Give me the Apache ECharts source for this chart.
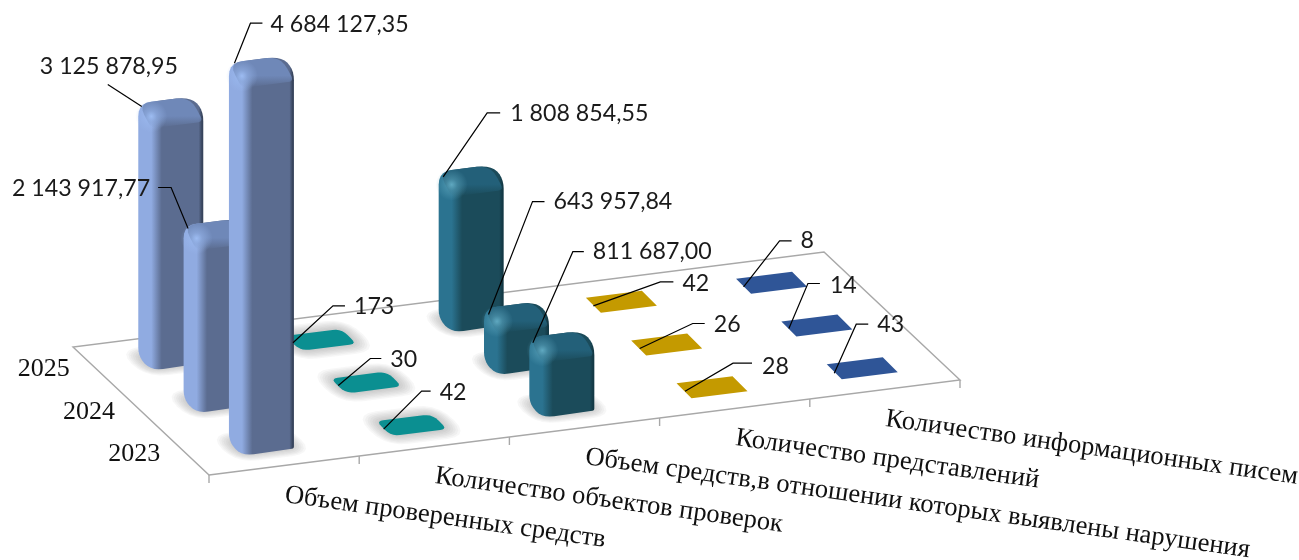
<!DOCTYPE html>
<html>
<head>
<meta charset="utf-8">
<style>
  html, body { margin: 0; padding: 0; background: #fff; }
  #main { width: 1299px; height: 560px; }
</style>
<script src="https://cdn.jsdelivr.net/npm/echarts@6/dist/echarts.min.js"></script>
</head>
<body>
<div id="main"></div>
<script>
// rows go from the front of the floor to the back
const years = ['2023', '2024', '2025'];
const categories = [
    'Объем проверенных средств',
    'Количество объектов проверок',
    'Объем средств,в отношении которых выявлены нарушения',
    'Количество представлений',
    'Количество информационных писем'
];
const checkedFunds = [4684127.35, 2143917.77, 3125878.95];
const auditObjects = [42, 30, 173];
const violationFunds = [811687.00, 643957.84, 1808854.55];
const submissions = [28, 26, 42];
const infoLetters = [43, 14, 8];
const seriesValues = [checkedFunds, auditObjects, violationFunds, submissions, infoLetters];

// looks per category
const looks = [
    {rounded: true, side: '#90abe1', front: '#5b6c90', edge: '#37445c', top: '#6f88b8', glow: '#9dbcf2'},
    {rounded: true, flat: '#0b8f91'},
    {rounded: true, side: '#2b7390', front: '#1b4b5a', edge: '#133945', top: '#236079', glow: '#5fa8c0'},
    {flat: '#c49a00'},
    {flat: '#2f5597'}
];

// leader line for each label, in px from the top centre of its mark:
// [startX, startY, elbowX, elbowY, endX, endY, textX, textY, text align]
const leaders = [
    [[-27, -3, -11, -43, 1, -43, 9, -42, 'left'],
     [-28, 0, -45, -41, -58, -41, -66, -40, 'right'],
     [-29, 0, -63, -22, -63, -22, -131, -40, 'left']],
    [[-28, 4, 10, -34, 19, -34, 28, -33, 'left'],
     [-28, 3, 4, -24, 15, -24, 24, -23, 'left'],
     [-28, 3, 12, -34, 24, -34, 33, -33, 'left']],
    [[-29, 2, 11, -89, 22, -89, 31, -89, 'left'],
     [-28, 3, 16, -110, 28, -110, 37, -110, 'left'],
     [-28, 2, 16, -62, 29, -62, 39, -61, 'left']],
    [[-27, 4, 21, -24, 40, -24, 50, -21, 'left'],
     [-27, 4, 26, -21, 38, -21, 47, -20, 'left'],
     [-28, 4, 39, -20, 52, -20, 61, -18, 'left']],
    [[-28, 5, -6, -44, 6, -44, 15, -44, 'left'],
     [-28, 3, -9, -42, 3, -42, 13, -40, 'left'],
     [-28, 4, 8, -42, 20, -42, 29, -42, 'left']]
];

// oblique projection of the floor
const RISE_PER_CATEGORY = -19;
const DEPTH_DX = -45.33;
const DEPTH_DY = -42.67;

const LABEL_FONT = 'Lato, sans-serif';
const AXIS_FONT = '"Liberation Serif", serif';

function formatValue(v) {
    if (v < 1000) return String(v);
    let parts = v.toFixed(2).split('.');
    return parts[0].replace(/\B(?=(\d{3})+(?!\d))/g, ' ') + ',' + parts[1];
}

// c = position along categories, r = depth in rows, v = value
function project(api, c, r, v) {
    let p = api.coord([c, v]);
    return [p[0] + r * DEPTH_DX, p[1] + c * RISE_PER_CATEGORY + r * DEPTH_DY];
}

// turns corners of a polygon into short curves
function rounded(points, radii) {
    let out = [];
    let n = points.length;
    for (let i = 0; i < n; i++) {
        let p = points[i], a = points[(i + n - 1) % n], b = points[(i + 1) % n];
        let rad = radii[i];
        if (!rad) { out.push(p); continue; }
        let la = Math.hypot(a[0] - p[0], a[1] - p[1]);
        let lb = Math.hypot(b[0] - p[0], b[1] - p[1]);
        let s = [p[0] + (a[0] - p[0]) * Math.min(rad, la / 2) / la, p[1] + (a[1] - p[1]) * Math.min(rad, la / 2) / la];
        let e = [p[0] + (b[0] - p[0]) * Math.min(rad, lb / 2) / lb, p[1] + (b[1] - p[1]) * Math.min(rad, lb / 2) / lb];
        for (let t = 0; t <= 1.001; t += 0.2) {
            let u = 1 - t;
            out.push([u * u * s[0] + 2 * u * t * p[0] + t * t * e[0], u * u * s[1] + 2 * u * t * p[1] + t * t * e[1]]);
        }
    }
    return out;
}

function poly(points, style) {
    return {type: 'polygon', shape: {points: points}, style: style};
}

function renderFloor(params, api) {
    let line = {stroke: '#a8a8a8', lineWidth: 1.4, fill: null};
    let fl = project(api, 0, 0, 0), fr = project(api, 5, 0, 0);
    let bl = project(api, 0, 3, 0), br = project(api, 5, 3, 0);
    let children = [poly([fl, fr, br, bl], {fill: '#fff', stroke: '#a8a8a8', lineWidth: 1.4})];
    categories.forEach((name, i) => {
        let t = project(api, i, 0, 0);
        children.push({type: 'line', shape: {x1: t[0], y1: t[1], x2: t[0], y2: t[1] + 8}, style: line});
    });
    let last = project(api, 5, 0, 0);
    children.push({type: 'line', shape: {x1: last[0], y1: last[1], x2: last[0], y2: last[1] + 8}, style: line});
    return {type: 'group', children: children};
}

function renderAxisText(params, api) {
    let children = [];
    years.forEach((y, r) => {
        let p = project(api, 0, r + 0.5, 0);
        children.push({type: 'text', x: p[0] - 26, y: p[1] + 1, style: {
            text: y, font: '26px ' + AXIS_FONT, fill: '#111', align: 'right', verticalAlign: 'middle'
        }});
    });
    categories.forEach((name, i) => {
        let p = project(api, i, 0, 0);
        children.push({type: 'text', x: p[0] + 76, y: p[1] + 20, rotation: -8 * Math.PI / 180, style: {
            text: name, font: '26.6px ' + AXIS_FONT, fill: '#111', align: 'left', verticalAlign: 'middle'
        }});
    });
    return {type: 'group', children: children};
}

function renderMark(params, api) {
    let c = api.value(0), r = api.value(1), v = api.value(2);
    let look = looks[c];
    let h = api.size([0, v])[1];
    let base = project(api, c + 0.5, r + 0.5, 0);
    let plate = !!look.flat;
    let ux = plate ? 56 : 52, uy = plate ? -7 : -6.6;
    let d = plate ? -15 : -13;
    let at = (a, b, z) => [base[0] + a * ux + b * d, base[1] + a * uy + b * d - z];

    let children = [];
    let foot = [at(-0.5, -0.5, 0), at(0.5, -0.5, 0), at(0.5, 0.5, 0), at(-0.5, 0.5, 0)];

    if (look.rounded) {
        // soft shadow built from stacked see-through footprints
        for (let e = 14; e > 0; e -= 2) {
            let a = 0.5 + e / 55, b = 0.5 + e / 24;
            let spread = [at(-a, -b, 0), at(a, -b, 0), at(a, b, 0), at(-a, b, 0)];
            children.push(poly(rounded(spread, [e + 9, e + 9, e + 9, e + 9]), {fill: 'rgba(110,110,110,0.055)'}));
        }
    }
    if (look.flat) {
        children.push(poly(look.rounded ? rounded(foot, [9, 7, 9, 7]) : foot, {fill: look.flat}));
    } else {
        let outline = [at(-0.5, 0.5, -1), at(-0.5, 0.5, h), at(0.5, 0.5, h), at(0.5, -0.5, h), at(0.5, -0.5, -1), at(-0.5, -0.5, -2)];
        children.push(poly(rounded(outline, [9, 13, 14, 11, 2, 12]), {
            fill: new echarts.graphic.LinearGradient(0, 0, 1, 0, [
                {offset: 0, color: look.side}, {offset: 0.2, color: look.side},
                {offset: 0.36, color: look.front}, {offset: 0.93, color: look.front},
                {offset: 0.98, color: look.edge}, {offset: 1, color: look.edge}
            ])
        }));
        let topFace = [at(-0.5, -0.5, h - 12), at(0.5, -0.5, h - 12), at(0.5, 0.5, h), at(-0.5, 0.5, h)];
        children.push(poly(rounded(topFace, [6, 6, 14, 13]), {
            fill: new echarts.graphic.LinearGradient(0, 0, 0, 1, [
                {offset: 0, color: look.top}, {offset: 0.6, color: look.top},
                {offset: 1, color: echarts.color.modifyAlpha(look.top, 0)}
            ])
        }));
        let spot = at(-0.5, -0.5, h);
        children.push({type: 'circle', shape: {cx: spot[0], cy: spot[1], r: 16}, style: {
            fill: new echarts.graphic.RadialGradient(0.5, 0.5, 0.5, [
                {offset: 0, color: look.glow},
                {offset: 0.35, color: echarts.color.modifyAlpha(look.glow, 0.5)},
                {offset: 1, color: echarts.color.modifyAlpha(look.glow, 0)}
            ])
        }});
    }
    return {type: 'group', children: children};
}

function renderLeader(params, api) {
    let c = api.value(0), r = api.value(1), v = api.value(2);
    let top = project(api, c + 0.5, r + 0.5, v);
    let o = leaders[c][r];
    let pts = [[top[0] + o[0], top[1] + o[1]], [top[0] + o[2], top[1] + o[3]], [top[0] + o[4], top[1] + o[5]]];
    return {type: 'group', children: [
        {type: 'polyline', shape: {points: pts}, style: {stroke: '#000', lineWidth: 1.2, fill: null}},
        {type: 'text', x: top[0] + o[6], y: top[1] + o[7], style: {
            text: formatValue(v), font: '23.2px ' + LABEL_FONT, fill: '#1a1a1a', align: o[8], verticalAlign: 'middle'
        }}
    ]};
}

// back row first so that the front bars cover it
let markData = [];
for (let r = years.length - 1; r >= 0; r--) {
    categories.forEach((name, c) => markData.push([c, r, seriesValues[c][r]]));
}

let chart = echarts.init(document.getElementById('main'));
let option = {
    animation: false,
    backgroundColor: '#fff',
    grid: {left: 209, width: 751, top: 71.5, height: 403.5},
    xAxis: {type: 'value', min: 0, max: 5, show: false},
    yAxis: {type: 'value', min: 0, max: 5000000, show: false},
    series: [
        {type: 'custom', name: 'floor', renderItem: renderFloor, data: [[0, 0]], clip: false, silent: true, z: 1},
        {type: 'custom', name: 'axis text', renderItem: renderAxisText, data: [[0, 0]], clip: false, silent: true, z: 2},
        {type: 'custom', name: 'marks', renderItem: renderMark, data: markData, clip: false, silent: true, z: 3},
        {type: 'custom', name: 'labels', renderItem: renderLeader, data: markData, clip: false, silent: true, z: 4}
    ]
};
chart.setOption(option);
</script>
</body>
</html>
